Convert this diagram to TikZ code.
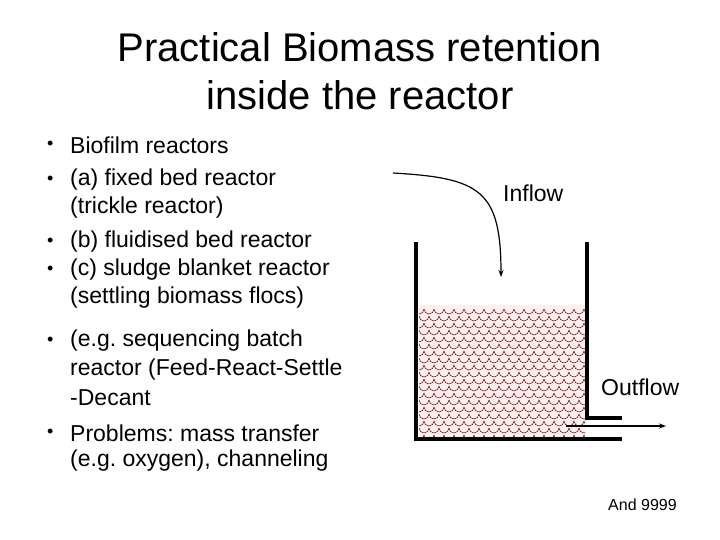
\documentclass[tikz,border=0pt]{standalone}
\usepackage{fontspec}
\usetikzlibrary{arrows.meta}
\setmainfont{Liberation Sans}
\frenchspacing
\begin{document}
\begin{tikzpicture}[x=1pt,y=-1pt,
  txt/.style={anchor=west,inner sep=0,font=\fontsize{23}{27}\selectfont},
  bul/.style={anchor=west,inner sep=0,font=\fontsize{18}{27}\selectfont},
  wall/.style={line width=3.5pt},
  flow/.style={line width=1.2pt,-{Stealth[length=7pt,width=5pt]}}]
\useasboundingbox (0,0) rectangle (720,540);
\node[inner sep=0,align=center,font=\fontsize{40}{48}\selectfont] (title) at (360,71) {Practical Biomass retention\\inside the reactor};
\foreach \y/\t [count=\i] in {145/Biofilm reactors,180/(a) fixed bed reactor,208/(trickle reactor),242/(b) fluidised bed reactor,270/(c) sludge blanket reactor,298/(settling biomass flocs),341/(e.g. sequencing batch,370/reactor (Feed-React-Settle,398/-Decant,433/Problems: mass transfer,461/(e.g. oxygen){,} channeling}
  \node[txt] (t\i) at (70,\y) {\t};
\foreach \y [count=\i] in {145,180,242,270,341,433}
  \node[bul] (b\i) at (47,\y) {•};
% fill pattern
\begin{scope}
\clip (419,305) rectangle (585,437);
\fill[red!6] (419,305) rectangle (585,437);
\foreach \r in {0,...,19}{
  \pgfmathsetmacro{\yy}{305+\r*7}
  \pgfmathsetmacro{\off}{mod(\r,2)*5}
  \foreach \c in {0,...,17}{
    \draw[line width=0.5pt,red!40!black] (414+\off+\c*10,\yy+4) arc[start angle=180,end angle=0,radius=5];
  }
}
\end{scope}
\coordinate (lt) at (416,242);
\coordinate (lb) at (416,439);
\coordinate (br) at (622,439);
\coordinate (rt) at (587,242);
\coordinate (rb) at (587,418);
\coordinate (sr) at (622,418);
\draw[wall] (lt) -- (lb) -- (br);
\draw[wall] (rt) -- (rb) -- (sr);
\coordinate (in0) at (393,173);
\coordinate (in1) at (501,277);
\draw[flow] (in0) .. controls (480,178) and (501,190) .. (in1);
\coordinate (o0) at (566,426);
\coordinate (o1) at (666,426);
\draw[flow] (o0) -- (o1);
\node[txt] (inflow) at (503,193) {Inflow};
\node[txt] (outflow) at (601,387) {Outflow};
\node[anchor=west,inner sep=0,font=\fontsize{16}{19}\selectfont] (foot) at (608,505) {And 9999};
\end{tikzpicture}
\end{document}
